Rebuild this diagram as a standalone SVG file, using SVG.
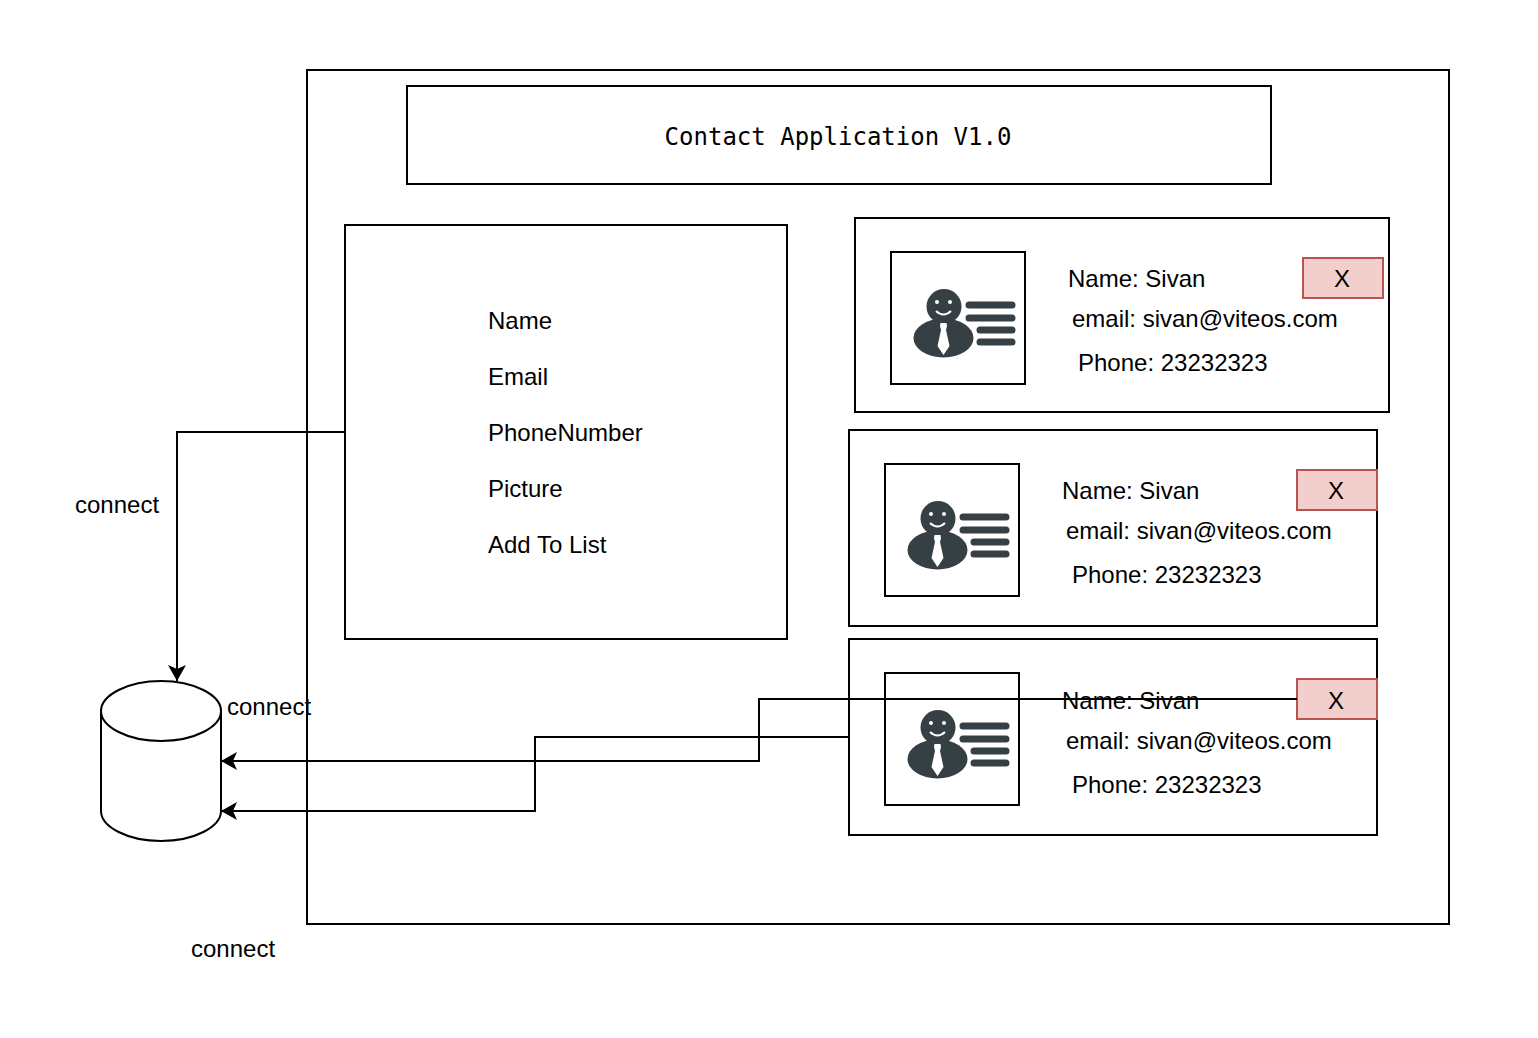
<svg xmlns="http://www.w3.org/2000/svg" xmlns:xlink="http://www.w3.org/1999/xlink" width="1538" height="1038" viewBox="0 0 1538 1038">
<style>
.b{fill:#fff;stroke:#000;stroke-width:2}
.n{fill:none;stroke:#000;stroke-width:2}
.x{fill:#f2cfcd;stroke:#b85450;stroke-width:2}
text{font-family:"Liberation Sans",Arial,sans-serif;font-size:24px;fill:#000}
.m{font-family:"DejaVu Sans Mono",monospace;font-size:24px}
.c{text-anchor:middle}
.d{fill:#363f43}
.l{stroke:#363f43;stroke-width:7;stroke-linecap:round}
</style>
<defs>
<marker id="a" viewBox="0 0 16 18" refX="16" refY="9" markerWidth="16" markerHeight="18" markerUnits="userSpaceOnUse" orient="auto"><path d="M0 0L16 9L0 18L4 9Z" fill="#000"/></marker>
<symbol id="icon" overflow="visible">
<circle class="d" cx="53" cy="56.500" r="17.500"/>
<ellipse class="d" cx="52.500" cy="88" rx="30" ry="19.500"/>
<path fill="#fff" d="M49.500 73h6l.5 3-1 4 3.500 16-6 9-6-9 3.500-16-1-4z"/>
<circle cx="46" cy="52" r="2" fill="#fff"/><circle cx="59" cy="52" r="2" fill="#fff"/>
<path d="M45 61q7.500 7 15 0" fill="none" stroke="#fff" stroke-width="2"/>
<path class="l" d="M78 55h43M78 68h43M89 80h32M89 92h32"/>
</symbol>
</defs>
<rect width="1538" height="1038" fill="#fff"/>
<g id="app"><rect class="b" x="307" y="70" width="1142" height="854"/></g>
<g id="title"><rect class="b" x="407" y="86" width="864" height="98"/><text class="m c" x="838" y="145">Contact Application V1.0</text></g>
<g id="form"><rect class="b" x="345" y="225" width="442" height="414"/>
<text x="488" y="329">Name</text><text x="488" y="385">Email</text><text x="488" y="441">PhoneNumber</text><text x="488" y="497">Picture</text><text x="488" y="553">Add To List</text></g>
<g id="card1"><rect class="b" x="855" y="218" width="534" height="194"/><rect class="b" x="891" y="252" width="134" height="132"/><use href="#icon" x="891" y="250"/>
<text x="1068" y="287">Name: Sivan</text><text x="1072" y="327">email: sivan@viteos.com</text><text x="1078" y="371">Phone: 23232323</text>
<rect class="x" x="1303" y="258" width="80" height="40"/><text class="c" x="1342" y="287">X</text></g>
<g id="card2"><rect class="b" x="849" y="430" width="528" height="196"/><rect class="b" x="885" y="464" width="134" height="132"/><use href="#icon" x="885" y="462"/>
<text x="1062" y="499">Name: Sivan</text><text x="1066" y="539">email: sivan@viteos.com</text><text x="1072" y="583">Phone: 23232323</text>
<rect class="x" x="1297" y="470" width="80" height="40"/><text class="c" x="1336" y="499">X</text></g>
<g id="card3"><rect class="b" x="849" y="639" width="528" height="196"/><rect class="b" x="885" y="673" width="134" height="132"/><use href="#icon" x="885" y="671"/>
<text x="1062" y="709">Name: Sivan</text><text x="1066" y="749">email: sivan@viteos.com</text><text x="1072" y="793">Phone: 23232323</text>
<rect class="x" x="1297" y="679" width="80" height="40"/><text class="c" x="1336" y="709">X</text></g>
<g id="database"><path class="b" d="M101 711C101 695 128 681 161 681S221 695 221 711V811C221 827 194 841 161 841S101 827 101 811Z"/><path class="n" d="M101 711C101 727 128 741 161 741S221 727 221 711"/></g>
<g id="connectors">
<path class="n" d="M345 432H177V681" marker-end="url(#a)"/>
<path class="n" d="M1297 699H759V761H221" marker-end="url(#a)"/>
<path class="n" d="M849 737H535V811H221" marker-end="url(#a)"/>
</g>
<g id="labels"><text x="75" y="513">connect</text><text x="227" y="715">connect</text><text x="191" y="957">connect</text></g>
</svg>
